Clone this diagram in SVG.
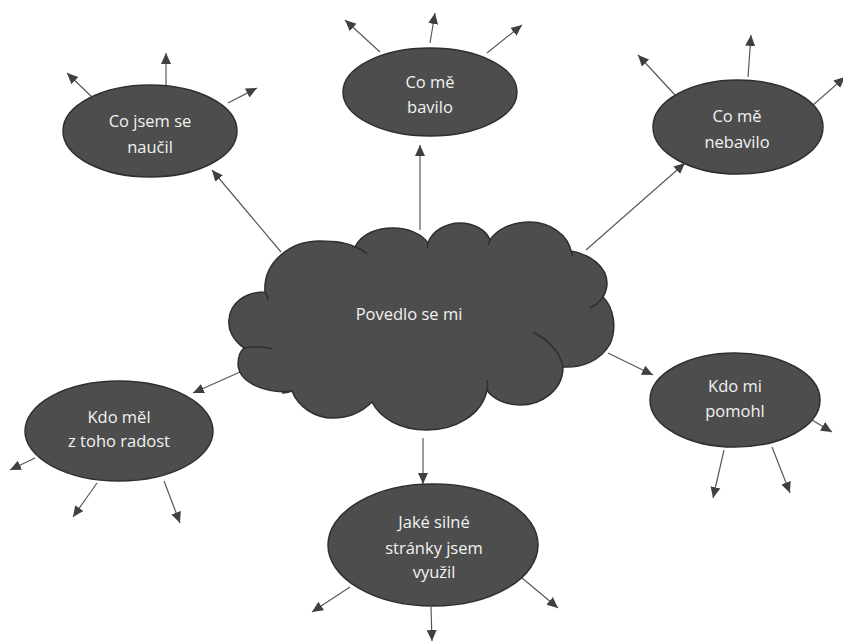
<svg xmlns="http://www.w3.org/2000/svg" width="843" height="641" viewBox="0 0 843 641">
<style>
.n{fill:#4d4d4d;stroke:#2f2f2f;stroke-width:1.5}
.t{font-family:"Open Sans","Noto Sans",sans-serif;font-size:16.5px;fill:#f2f2f2;text-anchor:middle}
.c line{stroke:#595959;stroke-width:1.2;marker-end:url(#ah)}
.cr{fill:none;stroke:#2f2f2f;stroke-width:1.5}
</style>
<defs>
<marker id="ah" markerUnits="userSpaceOnUse" markerWidth="12" markerHeight="12" refX="11" refY="5" orient="auto" viewBox="0 0 12 10">
<path d="M0,0 L11,5 L0,10 Z" fill="#404040"/>
</marker>
</defs>
<rect width="843" height="641" fill="#ffffff"/>
<g id="connectors" class="c">
<line x1="281" y1="252" x2="212" y2="170"/>
<line x1="420" y1="230" x2="420" y2="145"/>
<line x1="586" y1="250" x2="685" y2="163"/>
<line x1="608" y1="353" x2="653" y2="375"/>
<line x1="240" y1="372" x2="193" y2="393"/>
<line x1="423" y1="438" x2="423" y2="484"/>
<line x1="93" y1="98" x2="67" y2="73"/>
<line x1="166" y1="87" x2="166" y2="53"/>
<line x1="228" y1="103" x2="257" y2="88"/>
<line x1="380" y1="52" x2="345" y2="20"/>
<line x1="430" y1="43" x2="435" y2="13"/>
<line x1="487" y1="53" x2="522" y2="25"/>
<line x1="675" y1="95" x2="638" y2="55"/>
<line x1="748" y1="77" x2="751" y2="35"/>
<line x1="813" y1="105" x2="845" y2="77"/>
<line x1="812" y1="420" x2="832" y2="432"/>
<line x1="724" y1="450" x2="713" y2="498"/>
<line x1="772" y1="447" x2="790" y2="493"/>
<line x1="35" y1="458" x2="10" y2="470"/>
<line x1="97" y1="483" x2="73" y2="517"/>
<line x1="164" y1="481" x2="180" y2="523"/>
<line x1="350" y1="587" x2="312" y2="612"/>
<line x1="431" y1="607" x2="432" y2="641"/>
<line x1="522" y1="578" x2="558" y2="608"/>
</g>
<g id="cloud">
<path class="n" d="M265,292 C263,262 290,241 320,241 C335,241 348,243 355,247 C362,233 378,228 393,228 C408,228 422,234 428,243 C432,231 446,223 460,223 C474,223 486,230 490,240 C497,229 512,222 530,222 C550,222 568,235 571,251 C590,254 607,267 607,283 C607,288 606,292 603,297 C614,308 617,328 610,344 C600,362 580,368 563,367 C563,390 542,405 520,405 C505,405 492,398 487,390 C482,415 455,430 427,430 C400,430 380,418 372,402 C362,412 348,418 333,418 C315,418 298,407 292,391 C270,394 240,385 238,365 C238,357 240,351 244,348 C232,340 228,328 229,320 C230,303 245,292 265,292 Z"/>
<path class="cr" d="M355,247 Q362,249 367,254 M603,297 Q598,304 590,308 M533,332 C548,340 560,352 563,367 M244,348 Q258,345 272,349 M265,292 Q268,296 268,300 M292,391 Q287,393 282,393 M487,390 Q488,385 487,380 M428,243 Q428,246 427,248 M490,240 Q489,243 488,245 M571,251 Q572,254 573,256"/>
<text class="t" x="409" y="320">Povedlo se mi</text>
</g>
<g id="node-naucil">
<ellipse class="n" cx="150" cy="131" rx="87" ry="46"/>
<text class="t" x="150" y="127">Co jsem se</text>
<text class="t" x="150" y="153">naučil</text>
</g>
<g id="node-bavilo">
<ellipse class="n" cx="430" cy="92" rx="87" ry="44"/>
<text class="t" x="430" y="88">Co mě</text>
<text class="t" x="430" y="113">bavilo</text>
</g>
<g id="node-nebavilo">
<ellipse class="n" cx="738" cy="127" rx="85" ry="47"/>
<text class="t" x="737" y="122">Co mě</text>
<text class="t" x="737" y="148">nebavilo</text>
</g>
<g id="node-pomohl">
<ellipse class="n" cx="735" cy="400" rx="85" ry="47"/>
<text class="t" x="735" y="392">Kdo mi</text>
<text class="t" x="735" y="417">pomohl</text>
</g>
<g id="node-radost">
<ellipse class="n" cx="119" cy="431" rx="94" ry="50"/>
<text class="t" x="119" y="423">Kdo měl</text>
<text class="t" x="119" y="447">z toho radost</text>
</g>
<g id="node-stranky">
<ellipse class="n" cx="433" cy="545" rx="105" ry="61"/>
<text class="t" x="434" y="528">Jaké silné</text>
<text class="t" x="434" y="554">stránky jsem</text>
<text class="t" x="434" y="578">využil</text>
</g>
</svg>
